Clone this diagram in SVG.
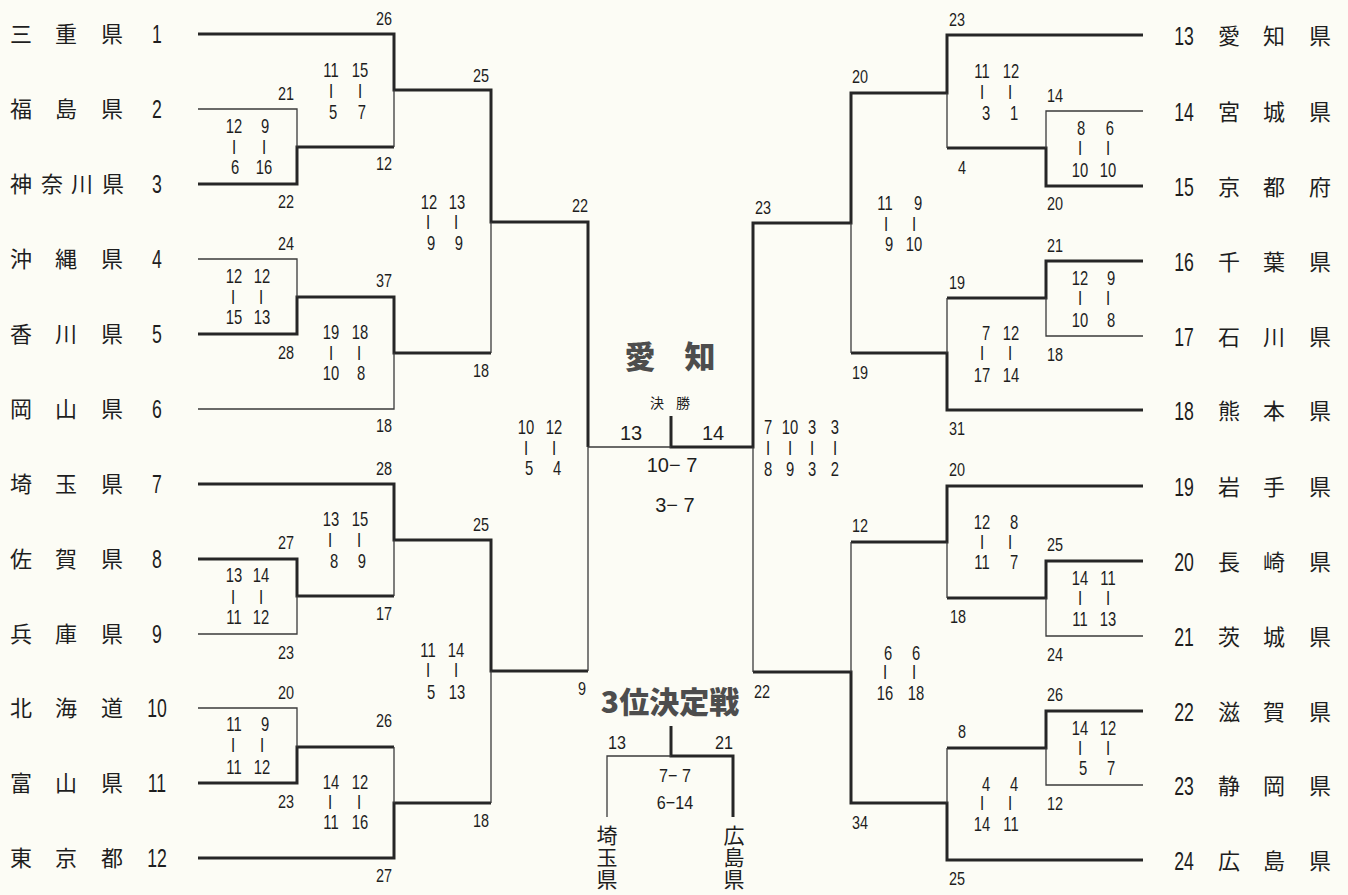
<svg xmlns="http://www.w3.org/2000/svg" width="1348" height="895" viewBox="0 0 1348 895">
<style>
.bg{fill:#fcfcf5}
.k{fill:none;stroke:#262626;stroke-width:3;stroke-linejoin:miter}
.t{fill:none;stroke:#3a3a3a;stroke-width:1.3}
text{font-family:"Liberation Sans",Arial,sans-serif;fill:#1e1e1e}
.nm{font-family:"Noto Sans CJK JP","Noto Sans CJK SC",sans-serif;font-size:22px;text-anchor:middle}
.no{font-size:26px;text-anchor:middle;transform-box:fill-box;transform-origin:center;transform:scaleX(0.68)}
.s{font-size:20px;text-anchor:middle;transform-box:fill-box;transform-origin:center;transform:scaleX(0.74)}
.lb{font-size:19px;text-anchor:middle;transform-box:fill-box;transform-origin:center;transform:scaleX(0.76)}
.br{font-size:15px;text-anchor:middle;transform-box:fill-box;transform-origin:center;transform:scaleX(1.2)}
.f{font-size:20px;text-anchor:middle}
.f2{font-size:19px;text-anchor:middle;transform-box:fill-box;transform-origin:center;transform:scaleX(0.85)}
.sm{font-family:"Noto Sans CJK JP",sans-serif;font-size:14px;text-anchor:middle}
.big{font-family:"Noto Sans CJK JP",sans-serif;font-weight:900;fill:#4d4d4d;text-anchor:middle}
.vt{font-family:"Noto Sans CJK JP",sans-serif;font-size:21px;text-anchor:middle}
</style>
<rect class="bg" width="1348" height="895"/>

<g id="connectors">
<path class="k" d="M198 34H394V90H491V222H588V447"/>
<path class="k" d="M198 184H297V147H394"/>
<path class="k" d="M198 334H297V297H394V353H491"/>
<path class="k" d="M198 484H394V540H491V671H588"/>
<path class="k" d="M198 559H297V596H394"/>
<path class="k" d="M198 783H297V747H394"/>
<path class="k" d="M198 858H394V803H491"/>
<path class="k" d="M1143 35H947V93H851V223H753V447H671V416"/>
<path class="k" d="M1143 186H1046V148H947"/>
<path class="k" d="M1143 261H1046V298H947"/>
<path class="k" d="M1143 410H947V353H851"/>
<path class="k" d="M1143 486H947V542H851"/>
<path class="k" d="M1143 561H1046V598H947"/>
<path class="k" d="M1143 711H1046V748H947"/>
<path class="k" d="M1143 860H947V803H851V672H753"/>
<path class="k" d="M671 726V756H733V817"/>
<path class="t" d="M198 109H297V147"/>
<path class="t" d="M394 147V90"/>
<path class="t" d="M198 259H297V297"/>
<path class="t" d="M198 409H394V353"/>
<path class="t" d="M491 353V222"/>
<path class="t" d="M198 634H297V596"/>
<path class="t" d="M394 596V540"/>
<path class="t" d="M198 708H297V747"/>
<path class="t" d="M394 747V803"/>
<path class="t" d="M491 803V671"/>
<path class="t" d="M588 671V447H671"/>
<path class="t" d="M1143 111H1046V148"/>
<path class="t" d="M947 148V93"/>
<path class="t" d="M1143 336H1046V298"/>
<path class="t" d="M947 298V353"/>
<path class="t" d="M851 353V223"/>
<path class="t" d="M851 542V672"/>
<path class="t" d="M1143 636H1046V598"/>
<path class="t" d="M947 598V542"/>
<path class="t" d="M1143 785H1046V748"/>
<path class="t" d="M947 748V803"/>
<path class="t" d="M753 672V447"/>
<path class="t" d="M671 756H607V817"/>
</g>

<g id="team-1"><text class="nm" x="21 66 112" y="42">三重県</text><text class="no" x="157" y="43">1</text></g>
<g id="team-2"><text class="nm" x="21 66 112" y="117">福島県</text><text class="no" x="157" y="118">2</text></g>
<g id="team-3"><text class="nm" x="21 52 82 113" y="192">神奈川県</text><text class="no" x="157" y="193">3</text></g>
<g id="team-4"><text class="nm" x="21 66 112" y="267">沖縄県</text><text class="no" x="157" y="268">4</text></g>
<g id="team-5"><text class="nm" x="21 66 112" y="342">香川県</text><text class="no" x="157" y="343">5</text></g>
<g id="team-6"><text class="nm" x="21 66 112" y="417">岡山県</text><text class="no" x="157" y="418">6</text></g>
<g id="team-7"><text class="nm" x="21 66 112" y="492">埼玉県</text><text class="no" x="157" y="493">7</text></g>
<g id="team-8"><text class="nm" x="21 66 112" y="567">佐賀県</text><text class="no" x="157" y="568">8</text></g>
<g id="team-9"><text class="nm" x="21 66 112" y="642">兵庫県</text><text class="no" x="157" y="643">9</text></g>
<g id="team-10"><text class="nm" x="21 66 112" y="716">北海道</text><text class="no" x="157" y="717">10</text></g>
<g id="team-11"><text class="nm" x="21 66 112" y="791">富山県</text><text class="no" x="157" y="792">11</text></g>
<g id="team-12"><text class="nm" x="21 66 112" y="866">東京都</text><text class="no" x="157" y="867">12</text></g>

<g id="team-13"><text class="no" x="1184" y="45">13</text><text class="nm" x="1229 1274 1320" y="44">愛知県</text></g>
<g id="team-14"><text class="no" x="1184" y="121">14</text><text class="nm" x="1229 1274 1320" y="120">宮城県</text></g>
<g id="team-15"><text class="no" x="1184" y="196">15</text><text class="nm" x="1229 1274 1320" y="195">京都府</text></g>
<g id="team-16"><text class="no" x="1184" y="271">16</text><text class="nm" x="1229 1274 1320" y="270">千葉県</text></g>
<g id="team-17"><text class="no" x="1184" y="346">17</text><text class="nm" x="1229 1274 1320" y="345">石川県</text></g>
<g id="team-18"><text class="no" x="1184" y="420">18</text><text class="nm" x="1229 1274 1320" y="419">熊本県</text></g>
<g id="team-19"><text class="no" x="1184" y="496">19</text><text class="nm" x="1229 1274 1320" y="495">岩手県</text></g>
<g id="team-20"><text class="no" x="1184" y="571">20</text><text class="nm" x="1229 1274 1320" y="570">長崎県</text></g>
<g id="team-21"><text class="no" x="1184" y="646">21</text><text class="nm" x="1229 1274 1320" y="645">茨城県</text></g>
<g id="team-22"><text class="no" x="1184" y="721">22</text><text class="nm" x="1229 1274 1320" y="720">滋賀県</text></g>
<g id="team-23"><text class="no" x="1184" y="795">23</text><text class="nm" x="1229 1274 1320" y="794">静岡県</text></g>
<g id="team-24"><text class="no" x="1184" y="870">24</text><text class="nm" x="1229 1274 1320" y="869">広島県</text></g>

<g id="m-a"><text class="lb" x="286" y="100">21</text><text class="lb" x="286" y="208">22</text>
<text class="s" x="234" y="133">12</text><text class="s" x="265" y="133">9</text><text class="br" x="234" y="151">|</text><text class="br" x="264" y="151">|</text><text class="s" x="235" y="174">6</text><text class="s" x="264" y="174">16</text></g>
<g id="m-b"><text class="lb" x="384" y="25">26</text><text class="lb" x="384" y="170">12</text>
<text class="s" x="331" y="77">11</text><text class="s" x="360" y="77">15</text><text class="br" x="331" y="95">|</text><text class="br" x="360" y="95">|</text><text class="s" x="333" y="119">5</text><text class="s" x="362" y="119">7</text></g>
<g id="m-c"><text class="lb" x="286" y="250">24</text><text class="lb" x="286" y="359">28</text>
<text class="s" x="234" y="283">12</text><text class="s" x="262" y="283">12</text><text class="br" x="233" y="301">|</text><text class="br" x="261" y="301">|</text><text class="s" x="234" y="324">15</text><text class="s" x="262" y="324">13</text></g>
<g id="m-d"><text class="lb" x="384" y="287">37</text><text class="lb" x="384" y="432">18</text>
<text class="s" x="331" y="339">19</text><text class="s" x="360" y="339">18</text><text class="br" x="331" y="357">|</text><text class="br" x="359" y="357">|</text><text class="s" x="331" y="380">10</text><text class="s" x="361" y="380">8</text></g>
<g id="m-e"><text class="lb" x="481" y="82">25</text><text class="lb" x="481" y="377">18</text>
<text class="s" x="429" y="209">12</text><text class="s" x="457" y="209">13</text><text class="br" x="428" y="226">|</text><text class="br" x="456" y="226">|</text><text class="s" x="431" y="250">9</text><text class="s" x="459" y="250">9</text></g>
<g id="m-f"><text class="lb" x="580" y="212">22</text><text class="lb" x="582" y="695">9</text>
<text class="s" x="526" y="434">10</text><text class="s" x="554" y="434">12</text><text class="br" x="526" y="452">|</text><text class="br" x="554" y="452">|</text><text class="s" x="529" y="475">5</text><text class="s" x="557" y="475">4</text></g>
<g id="m-g"><text class="lb" x="286" y="549">27</text><text class="lb" x="286" y="659">23</text>
<text class="s" x="234" y="582">13</text><text class="s" x="261" y="582">14</text><text class="br" x="233" y="601">|</text><text class="br" x="261" y="601">|</text><text class="s" x="234" y="624">11</text><text class="s" x="261" y="624">12</text></g>
<g id="m-h"><text class="lb" x="384" y="475">28</text><text class="lb" x="384" y="620">17</text>
<text class="s" x="331" y="526">13</text><text class="s" x="360" y="526">15</text><text class="br" x="330" y="544">|</text><text class="br" x="359" y="544">|</text><text class="s" x="334" y="568">8</text><text class="s" x="362" y="568">9</text></g>
<g id="m-i"><text class="lb" x="286" y="699">20</text><text class="lb" x="286" y="808">23</text>
<text class="s" x="234" y="731">11</text><text class="s" x="265" y="731">9</text><text class="br" x="233" y="749">|</text><text class="br" x="262" y="749">|</text><text class="s" x="234" y="774">11</text><text class="s" x="262" y="774">12</text></g>
<g id="m-j"><text class="lb" x="384" y="727">26</text><text class="lb" x="384" y="882">27</text>
<text class="s" x="331" y="789">14</text><text class="s" x="360" y="789">12</text><text class="br" x="330" y="806">|</text><text class="br" x="359" y="806">|</text><text class="s" x="331" y="829">11</text><text class="s" x="360" y="829">16</text></g>
<g id="m-k"><text class="lb" x="481" y="531">25</text><text class="lb" x="481" y="827">18</text>
<text class="s" x="428" y="657">11</text><text class="s" x="456" y="657">14</text><text class="br" x="428" y="674">|</text><text class="br" x="456" y="674">|</text><text class="s" x="431" y="699">5</text><text class="s" x="457" y="699">13</text></g>

<g id="m-l"><text class="lb" x="1055" y="102">14</text><text class="lb" x="1055" y="210">20</text>
<text class="s" x="1081" y="135">8</text><text class="s" x="1110" y="135">6</text><text class="br" x="1080" y="152">|</text><text class="br" x="1108" y="152">|</text><text class="s" x="1080" y="177">10</text><text class="s" x="1108" y="177">10</text></g>
<g id="m-m"><text class="lb" x="957" y="26">23</text><text class="lb" x="962" y="174">4</text>
<text class="s" x="982" y="78">11</text><text class="s" x="1011" y="78">12</text><text class="br" x="982" y="96">|</text><text class="br" x="1010" y="96">|</text><text class="s" x="986" y="120">3</text><text class="s" x="1014" y="120">1</text></g>
<g id="m-n"><text class="lb" x="1055" y="252">21</text><text class="lb" x="1055" y="361">18</text>
<text class="s" x="1080" y="285">12</text><text class="s" x="1111" y="285">9</text><text class="br" x="1080" y="302">|</text><text class="br" x="1108" y="302">|</text><text class="s" x="1080" y="327">10</text><text class="s" x="1111" y="327">8</text></g>
<g id="m-o"><text class="lb" x="957" y="289">19</text><text class="lb" x="957" y="435">31</text>
<text class="s" x="986" y="340">7</text><text class="s" x="1011" y="340">12</text><text class="br" x="982" y="357">|</text><text class="br" x="1010" y="357">|</text><text class="s" x="982" y="382">17</text><text class="s" x="1011" y="382">14</text></g>
<g id="m-p"><text class="lb" x="860" y="83">20</text><text class="lb" x="860" y="379">19</text>
<text class="s" x="885" y="210">11</text><text class="s" x="918" y="210">9</text><text class="br" x="886" y="228">|</text><text class="br" x="914" y="228">|</text><text class="s" x="889" y="251">9</text><text class="s" x="914" y="251">10</text></g>
<g id="m-q"><text class="lb" x="763" y="214">23</text><text class="lb" x="762" y="698">22</text>
<text class="s" x="768" y="434">7</text><text class="s" x="790" y="434">10</text><text class="s" x="812" y="434">3</text><text class="s" x="835" y="434">3</text>
<text class="br" x="768" y="452">|</text><text class="br" x="790" y="452">|</text><text class="br" x="812" y="452">|</text><text class="br" x="835" y="452">|</text>
<text class="s" x="768" y="476">8</text><text class="s" x="790" y="476">9</text><text class="s" x="812" y="476">3</text><text class="s" x="835" y="476">2</text></g>
<g id="m-r"><text class="lb" x="1055" y="551">25</text><text class="lb" x="1055" y="661">24</text>
<text class="s" x="1080" y="585">14</text><text class="s" x="1108" y="585">11</text><text class="br" x="1080" y="602">|</text><text class="br" x="1108" y="602">|</text><text class="s" x="1080" y="626">11</text><text class="s" x="1108" y="626">13</text></g>
<g id="m-s"><text class="lb" x="957" y="476">20</text><text class="lb" x="958" y="623">18</text>
<text class="s" x="982" y="529">12</text><text class="s" x="1014" y="529">8</text><text class="br" x="982" y="546">|</text><text class="br" x="1010" y="546">|</text><text class="s" x="982" y="569">11</text><text class="s" x="1014" y="569">7</text></g>
<g id="m-t"><text class="lb" x="1055" y="701">26</text><text class="lb" x="1055" y="810">12</text>
<text class="s" x="1080" y="735">14</text><text class="s" x="1108" y="735">12</text><text class="br" x="1080" y="752">|</text><text class="br" x="1108" y="752">|</text><text class="s" x="1083" y="775">5</text><text class="s" x="1111" y="775">7</text></g>
<g id="m-u"><text class="lb" x="962" y="738">8</text><text class="lb" x="957" y="885">25</text>
<text class="s" x="986" y="791">4</text><text class="s" x="1014" y="791">4</text><text class="br" x="982" y="807">|</text><text class="br" x="1010" y="807">|</text><text class="s" x="982" y="831">14</text><text class="s" x="1011" y="831">11</text></g>
<g id="m-v"><text class="lb" x="860" y="532">12</text><text class="lb" x="860" y="829">34</text>
<text class="s" x="888" y="660">6</text><text class="s" x="916" y="660">6</text><text class="br" x="885" y="676">|</text><text class="br" x="914" y="676">|</text><text class="s" x="885" y="700">16</text><text class="s" x="916" y="700">18</text></g>

<g id="final">
<text class="big" x="640 700" y="368" font-size="31">愛知</text>
<text class="sm" x="657 683" y="408">決勝</text>
<text class="f" x="631" y="440">13</text>
<text class="f" x="713" y="440">14</text>
<text class="f" x="672" y="472">10− 7</text>
<text class="f" x="675" y="512">3− 7</text>
</g>

<g id="third-place">
<text class="big" x="670" y="713" font-size="30">3位決定戦</text>
<text class="f2" x="617" y="749">13</text>
<text class="f2" x="724" y="749">21</text>
<text class="f2" x="675" y="782">7− 7</text>
<text class="f2" x="675" y="809">6−14</text>
<text class="vt" x="607 607 607" y="843 865 887">埼玉県</text>
<text class="vt" x="734 734 734" y="843 865 887">広島県</text>
</g>
</svg>
